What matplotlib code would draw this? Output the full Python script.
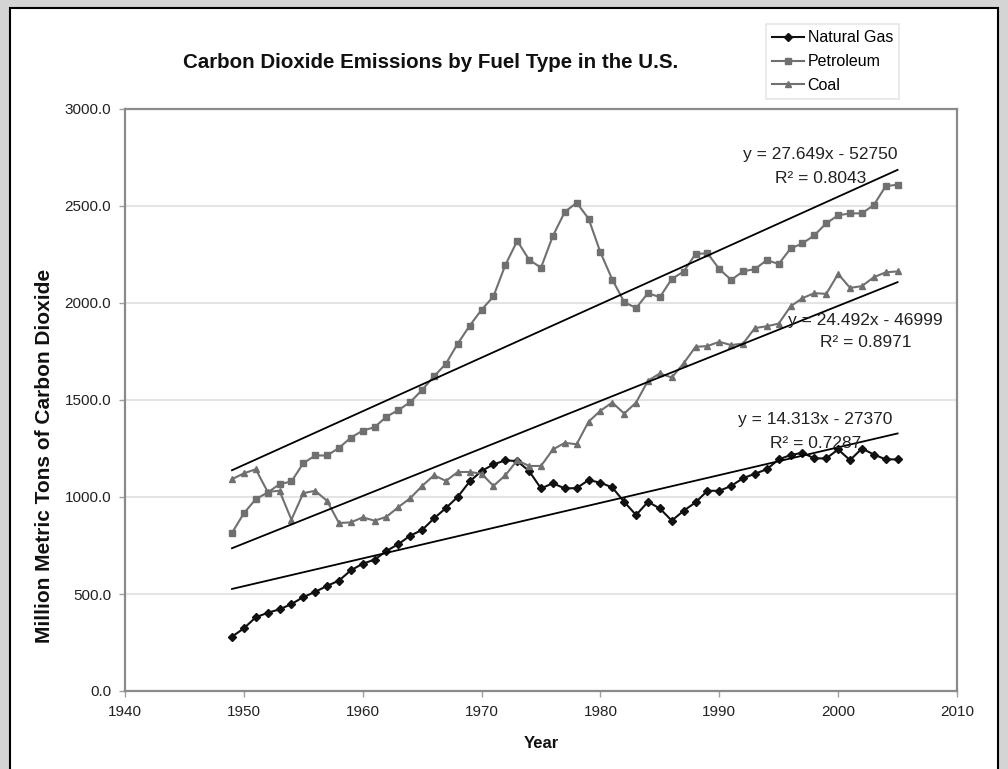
import matplotlib
matplotlib.use('Agg')
import matplotlib.pyplot as plt
from matplotlib.patches import Rectangle

plt.rcParams['font.family'] = ['Liberation Sans', 'DejaVu Sans']

# ---- data (million metric tons CO2) ----
years = list(range(1949, 2006))

natural_gas = [280, 323, 380, 403, 421, 448, 484, 511, 542, 569,
               622, 656, 677, 722, 757, 801, 830, 890, 943, 1001,
               1080, 1134, 1168, 1189, 1185, 1134, 1044, 1071, 1044, 1046,
               1087, 1074, 1049, 975, 907, 975, 941, 878, 929, 972,
               1032, 1032, 1057, 1097, 1120, 1143, 1194, 1216, 1228, 1199,
               1199, 1245, 1190, 1250, 1219, 1194, 1194]

petroleum = [815, 916, 989, 1023, 1066, 1080, 1174, 1214, 1214, 1253,
             1306, 1342, 1360, 1414, 1448, 1489, 1552, 1622, 1687, 1791,
             1883, 1965, 2034, 2196, 2320, 2223, 2182, 2346, 2469, 2517,
             2435, 2261, 2121, 2005, 1974, 2051, 2030, 2124, 2162, 2252,
             2257, 2175, 2119, 2163, 2175, 2221, 2201, 2281, 2307, 2349,
             2411, 2452, 2462, 2462, 2505, 2602, 2610]

coal = [1092, 1122, 1143, 1027, 1032, 883, 1020, 1032, 980, 866,
        869, 895, 878, 898, 948, 994, 1057, 1112, 1083, 1129,
        1129, 1120, 1057, 1112, 1189, 1160, 1160, 1245, 1279, 1272,
        1388, 1445, 1487, 1430, 1487, 1599, 1637, 1616, 1689, 1774,
        1778, 1800, 1783, 1791, 1871, 1880, 1894, 1983, 2025, 2051,
        2047, 2150, 2078, 2087, 2133, 2158, 2163]

series_names = ['Natural Gas', 'Petroleum', 'Coal']

# linear trendlines as printed on the chart
trend_slopes = [14.313, 27.649, 24.492]
trend_intercepts = [-27370, -52750, -46999]
trend_r2 = ['0.7287', '0.8043', '0.8971']

x_ticks = [1940, 1950, 1960, 1970, 1980, 1990, 2000, 2010]
y_ticks = [0, 500, 1000, 1500, 2000, 2500, 3000]

# ---- figure ----
fig = plt.figure(figsize=(10.08, 7.69), dpi=100)
fig.patch.set_facecolor('#d4d4d4')

# white chart panel with black frame (behind everything)
panel = Rectangle((10 / 1008, -0.02), 988 / 1008, 1 - 8 / 769 + 0.02,
                  transform=fig.transFigure, facecolor='white',
                  edgecolor='black', linewidth=1.5, zorder=-10)
fig.patches.append(panel)

ax = fig.add_axes([125 / 1008, 1 - 691 / 769, 832 / 1008, 582 / 769])
ax.set_facecolor('white')
ax.set_zorder(1)

styles = [
    dict(color='#111111', marker='D', markersize=3.6, lw=1.5),
    dict(color='#707070', marker='s', markersize=4.5, lw=1.5),
    dict(color='#707070', marker='^', markersize=4.8, lw=1.5),
]
data = [natural_gas, petroleum, coal]

lines = []
for vals, name, st in zip(data, series_names, styles):
    ln, = ax.plot(years, vals, label=name, zorder=3, **st)
    lines.append(ln)

# trendlines
for m, b in zip(trend_slopes, trend_intercepts):
    xs = [years[0], years[-1]]
    ax.plot(xs, [m * x + b for x in xs], color='black', lw=1.3, zorder=4)

# equation labels
eq_pos = [(1998.1, 1397, 1278), (1998.5, 2763, 2644), (2002.3, 1912, 1794)]
for (xp, y1, y2), m, b, r2 in zip(eq_pos, trend_slopes, trend_intercepts, trend_r2):
    ax.text(xp, y1, f'y = {m:.3f}x - {abs(b)}', ha='center', va='center',
            fontsize=12.5, color='#222222', zorder=5)
    ax.text(xp, y2, f'R² = {r2}', ha='center', va='center',
            fontsize=12.5, color='#222222', zorder=5)

ax.set_xlim(1940, 2010)
ax.set_ylim(0, 3000)
ax.set_xticks(x_ticks)
ax.set_yticks(y_ticks)
ax.set_yticklabels([f'{v:.1f}' for v in y_ticks])
ax.tick_params(labelsize=11, colors='#a0a0a0', labelcolor='#222222',
               length=4, width=1, direction='out', pad=6)
ax.grid(axis='y', color='#e4e4e4', lw=1.5, zorder=0)
ax.set_axisbelow(True)
for sp in ax.spines.values():
    sp.set_color('#8a8a8a')
    sp.set_linewidth(1.6)

fig.text(431 / 1008, 1 - 62 / 769, 'Carbon Dioxide Emissions by Fuel Type in the U.S.',
         ha='center', va='center', fontsize=14.8, fontweight='bold', color='#111111')
fig.text(45 / 1008, 1 - 456 / 769, 'Million Metric Tons of Carbon Dioxide',
         ha='center', va='center', rotation=90, fontsize=15, fontweight='bold',
         color='#111111')
fig.text(541 / 1008, 1 - 743 / 769, 'Year', ha='center', va='center',
         fontsize=12, fontweight='bold', color='#111111')

leg = fig.legend(handles=lines, labels=series_names, loc='upper left',
                 bbox_to_anchor=(766 / 1008, 1 - 24 / 769), fontsize=11.5,
                 frameon=True, fancybox=False, edgecolor='#e0e0e0',
                 handlelength=2.0, handletextpad=0.2, labelspacing=0.55,
                 borderpad=0.4, borderaxespad=0)
leg.get_frame().set_linewidth(1.2)

fig.savefig('out.png', dpi=100, facecolor=fig.get_facecolor())
